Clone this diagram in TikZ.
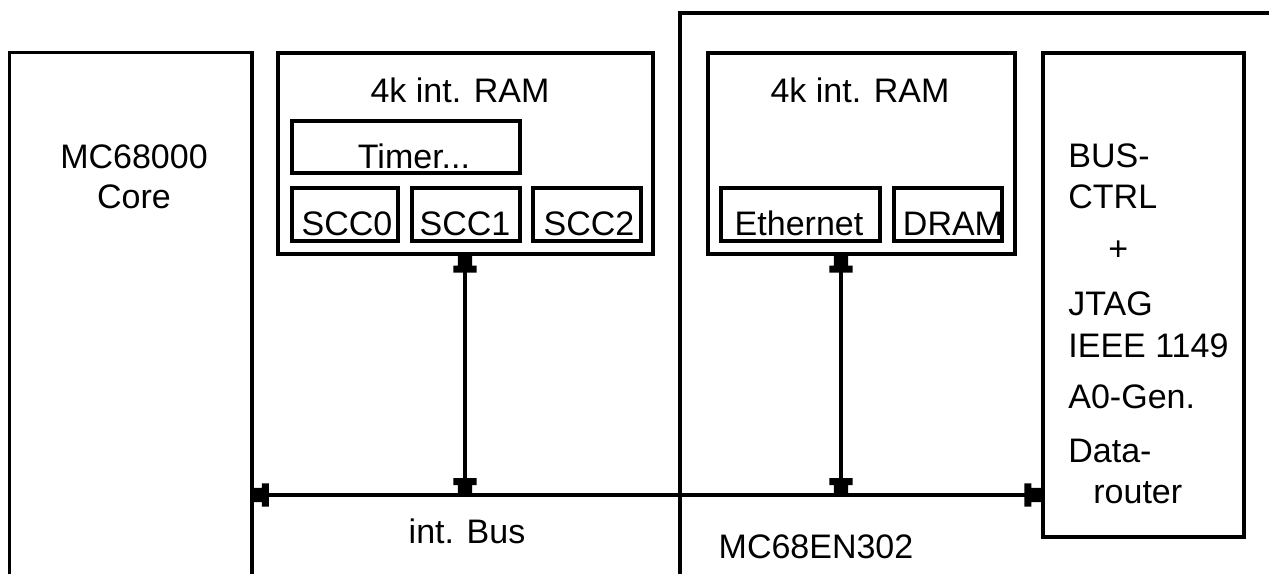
\documentclass[tikz,border=0pt]{standalone}
\usepackage{fontspec}
\setmainfont{Liberation Sans}
\usetikzlibrary{fit}

\pgfdeclarearrow{
  name=Blk,
  setup code={
    \pgfarrowssettipend{0pt}
    \pgfarrowssetlineend{-2pt}
    \pgfarrowssetbackend{-8.5pt}
    \pgfarrowssetvisualbackend{-8.5pt}
    \pgfarrowshullpoint{0pt}{5.8pt}
    \pgfarrowshullpoint{0pt}{-5.8pt}
    \pgfarrowshullpoint{-8.5pt}{5.8pt}
    \pgfarrowshullpoint{-8.5pt}{-5.8pt}
  },
  drawing code={
    \pgfpathmoveto{\pgfpoint{0pt}{3.6pt}}
    \pgfpathlineto{\pgfpoint{-5pt}{3.6pt}}
    \pgfpathlineto{\pgfpoint{-5pt}{5.8pt}}
    \pgfpathlineto{\pgfpoint{-8.5pt}{5.8pt}}
    \pgfpathlineto{\pgfpoint{-8.5pt}{-5.8pt}}
    \pgfpathlineto{\pgfpoint{-5pt}{-5.8pt}}
    \pgfpathlineto{\pgfpoint{-5pt}{-3.6pt}}
    \pgfpathlineto{\pgfpoint{0pt}{-3.6pt}}
    \pgfpathclose
    \pgfusepathqfill
  },
}

\tikzset{
  box/.style={draw, line width=1.6pt, inner sep=0pt},
  subbox/.style={draw, line width=1.6pt, inner sep=0pt},
  frameline/.style={line width=1.6pt},
  conn/.style={line width=1.6pt, {Blk}-{Blk}},
  lbl/.style={anchor=base, inner sep=0pt, font=\fontsize{17}{20}\selectfont},
  lblw/.style={anchor=base west, inner sep=0pt, font=\fontsize{17}{20}\selectfont},
}

\begin{document}
\begin{tikzpicture}[x=0.5pt, y=-0.5pt]
\useasboundingbox (0,0) rectangle (1269,574);

% chip frame (MC68EN302)
\draw[frameline] (680,574) -- (680,13) -- (1272,13);

% MC68000 core (open at the bottom)
\node[fit={(10,53) (251.5,574)}, inner sep=0pt] (core) {};
\draw[frameline] (core.south west) -- (core.north west) -- (core.north east) -- (core.south east);
\node[lbl] (coreA) at (134,168) {MC68000};
\node[lbl] (coreB) at (134,208) {Core};

% first RAM block
\node[box, fit={(278,53) (653,254)}] (ram1) {};
\node[lbl] (ram1t) at (460,102) {4k int. RAM};
\node[subbox, fit={(292,121) (520,173)}] (timer) {};
\node[lbl] (timert) at (414,168) {Timer...};
\node[subbox, fit={(292,188) (398,241)}] (scc0) {};
\node[subbox, fit={(412,188) (520,241)}] (scc1) {};
\node[subbox, fit={(533,188) (641,241)}] (scc2) {};
\node[lbl] (scc0t) at (347,235) {SCC0};
\node[lbl] (scc1t) at (465,235) {SCC1};
\node[lbl] (scc2t) at (589,235) {SCC2};

% second RAM block
\node[box, fit={(708,53) (1015,254)}] (ram2) {};
\node[lbl] (ram2t) at (860,102) {4k int. RAM};
\node[subbox, fit={(721,188) (880,241)}] (eth) {};
\node[subbox, fit={(894,188) (1002,241)}] (dram) {};
\node[lbl] (etht) at (799,235) {Ethernet};
\node[lbl] (dramt) at (953,235) {DRAM};

% bus controller block
\node[box, fit={(1043,53) (1244,537)}] (ctrl) {};
\node[lblw] (c1) at (1068,167) {BUS-};
\node[lblw] (c2) at (1068,208) {CTRL};
\node[lblw] (c3) at (1108,260) {+};
\node[lblw] (c4) at (1068,315) {JTAG};
\node[lblw] (c5) at (1068,357) {IEEE 1149};
\node[lblw] (c6) at (1068,408) {A0-Gen.};
\node[lblw] (c7) at (1068,462) {Data-};
\node[lblw] (c8) at (1093,503) {router};

% internal bus
\coordinate (busy) at (0,495);
\coordinate (tap1) at (465,495);
\coordinate (tap2) at (841,495);
\draw[conn] (core.east |- busy) -- (ctrl.west |- busy);
\draw[conn] (ram1.south -| tap1) -- (tap1);
\draw[conn] (ram2.south -| tap2) -- (tap2);

\node[lbl] (busl) at (467,543) {int. Bus};
\node[lbl] (chipl) at (816,558) {MC68EN302};
\end{tikzpicture}
\end{document}
